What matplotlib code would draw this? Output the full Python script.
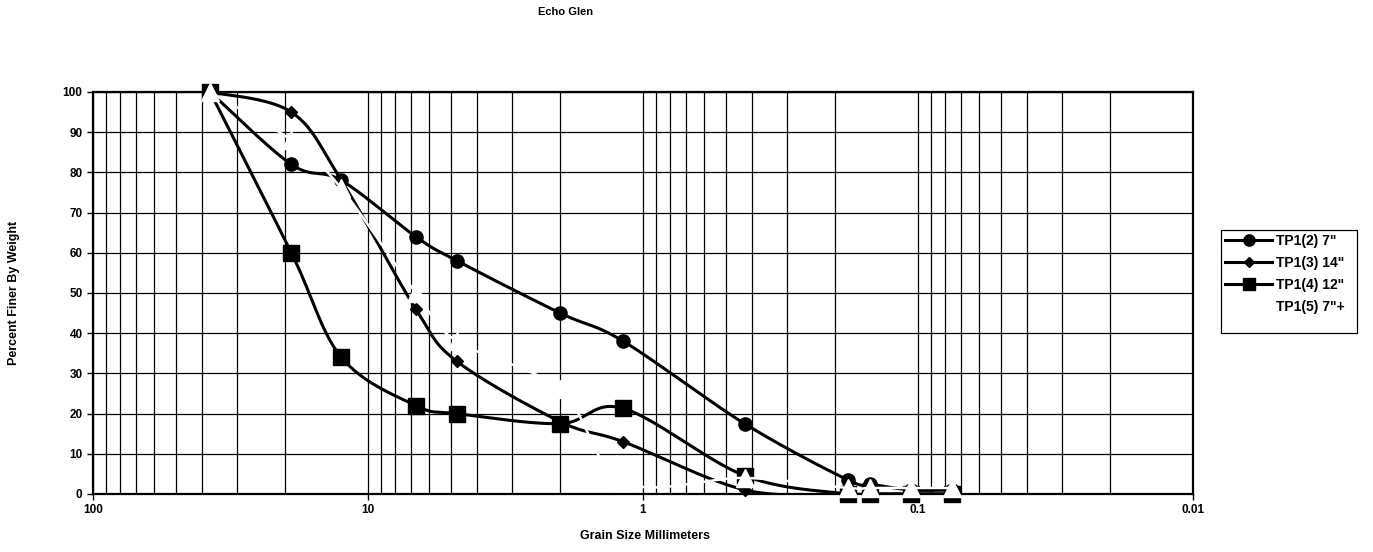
import numpy as np
import matplotlib
matplotlib.use("Agg")
import matplotlib.pyplot as plt
from matplotlib.patches import Rectangle
from matplotlib.ticker import LogLocator, FixedLocator, FuncFormatter, NullFormatter

# Sieve openings (mm) and percent passing for each test-pit sample
sizes_mm = [37.5, 19.0, 12.5, 6.7, 4.75, 2.0, 1.18, 0.425, 0.18, 0.15, 0.106, 0.075]
tp1_2 = [100, 82, 78, 64, 58, 45, 38, 17.4, 3.5, 2.5, 1.0, 1.0]
tp1_3 = [100, 95, 78, 46, 33, 18, 13, 1.0, 0, 0, 0, 0]
tp1_4 = [100, 60, 34, 22, 20, 17.5, 21.3, 4.5, 0, 0, 0, 0]
tp1_5 = [100, 88, 76, 50, 38, 26, 3.0, 4.0, 1.5, 1.5, 1.5, 1.5]

series_labels = ['TP1(2) 7"', 'TP1(3) 14"', 'TP1(4) 12"', 'TP1(5) 7"+']
x_tick_values = [100, 10, 1, 0.1, 0.01]
y_tick_values = list(range(0, 101, 10))

plt.rcParams['font.family'] = ['Liberation Sans', 'DejaVu Sans']
plt.rcParams['font.weight'] = 'bold'

W, H = 1373, 552


def smooth_curve(xs, ys, n=40):
    """Catmull-Rom smoothing in log(x)/y space (spreadsheet-style smoothed line)."""
    pts = np.column_stack([np.log10(xs), np.asarray(ys, float)])
    pts = np.vstack([pts[0], pts, pts[-1]])
    t = np.linspace(0, 1, n)[:, None]
    segs = []
    for i in range(1, len(pts) - 2):
        p0, p1, p2, p3 = pts[i - 1], pts[i], pts[i + 1], pts[i + 2]
        c = 0.5 * (2 * p1 + (p2 - p0) * t
                   + (2 * p0 - 5 * p1 + 4 * p2 - p3) * t ** 2
                   + (-p0 + 3 * p1 - 3 * p2 + p3) * t ** 3)
        segs.append(c if i == 1 else c[1:])
    c = np.vstack(segs)
    return 10 ** c[:, 0], c[:, 1]


fig = plt.figure(figsize=(W / 100, H / 100), dpi=100)
ax = fig.add_axes([93 / W, 1 - 494 / H, 1100 / W, 402 / H])

ax.set_xscale('log')
ax.set_xlim(100, 0.01)
ax.set_ylim(0, 100)

ax.xaxis.set_major_locator(FixedLocator(x_tick_values))
ax.xaxis.set_major_formatter(FuncFormatter(lambda v, p: f"{v:g}"))
ax.xaxis.set_minor_locator(LogLocator(base=10, subs=np.arange(2, 10)))
ax.xaxis.set_minor_formatter(NullFormatter())
ax.yaxis.set_major_locator(FixedLocator(y_tick_values))

ax.set_axisbelow(True)
ax.grid(which='both', axis='x', color='black', lw=0.9)
ax.grid(which='major', axis='y', color='black', lw=0.9)
ax.tick_params(which='major', direction='out', length=4, width=1, labelsize=8.5, color='black')
ax.tick_params(which='minor', length=0)
for lab in ax.get_xticklabels() + ax.get_yticklabels():
    lab.set_fontweight('bold')
for sp in ax.spines.values():
    sp.set_linewidth(1.6)
    sp.set_color('black')
    sp.set_zorder(1.5)

styles = [
    dict(marker='o', ms=9.5, color='black', lw=2.2),
    dict(marker='D', ms=6.2, color='black', lw=2.2),
    dict(marker='s', ms=11, color='black', lw=2.2),
    dict(marker='^', ms=13, color='white', lw=1.8),
]
handles = []
for k, (vals, lab, st) in enumerate(zip([tp1_2, tp1_3, tp1_4, tp1_5], series_labels, styles)):
    sx, sy = smooth_curve(sizes_mm, vals)
    ax.plot(sx, sy, color=st['color'], lw=st['lw'], solid_capstyle='butt', zorder=2 + k * 0.1)
    ax.plot(sizes_mm, vals, linestyle='none', marker=st['marker'], ms=st['ms'],
            mfc=st['color'], mec=st['color'], clip_on=False, zorder=2.05 + k * 0.1)
    h, = ax.plot([], [], color=st['color'], lw=2.2, marker=st['marker'],
                 ms=st['ms'] * 0.85, mfc=st['color'], mec=st['color'], label=lab)
    handles.append(h)

# Legend entries without frame, boxed by a separate rectangle
leg = fig.legend(handles=handles, loc='upper left', bbox_to_anchor=(1225 / W, 1 - 234 / H),
                 frameon=False,
                 prop={'size': 10, 'weight': 'bold', 'family': ['Liberation Sans']},
                 handlelength=3.4, handletextpad=0.3, labelspacing=0.58,
                 borderpad=0.0, borderaxespad=0)
fig.patches.append(Rectangle((1221 / W, 1 - 333 / H), 136 / W, 103 / H,
                             transform=fig.transFigure, fill=False,
                             edgecolor='black', lw=0.9))

fig.text(566 / W, 1 - 12 / H, 'Echo Glen', ha='center', va='center',
         fontsize=8, fontweight='bold')
fig.text(645 / W, 1 - 536 / H, 'Grain Size Millimeters', ha='center', va='center',
         fontsize=9, fontweight='bold')
fig.text(14 / W, 1 - 293 / H, 'Percent Finer By Weight', ha='center', va='center',
         rotation=90, fontsize=9, fontweight='bold')

fig.savefig('out.png', dpi=100, facecolor='white')
